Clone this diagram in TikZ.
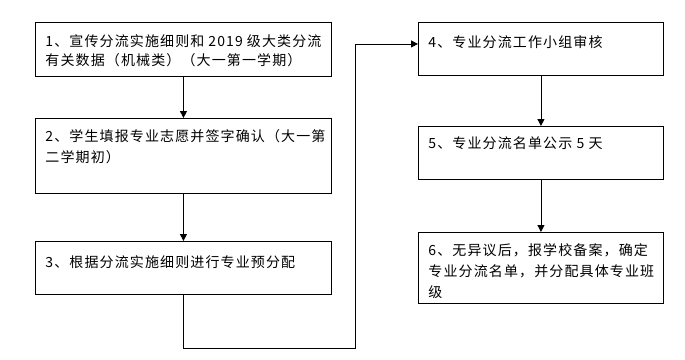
\documentclass[tikz,border=0pt]{standalone}
\usepackage{fontspec}
\newfontfamily\cjk{Noto Sans CJK SC}[LetterSpace=8]
\usetikzlibrary{arrows.meta}

% box body: height, width, first baseline, lines
\newcommand{\steptext}[4]{\parbox[c][#1][t]{#2}{\rule{0pt}{#3}#4}}

\begin{document}
\begin{tikzpicture}[x=1pt,y=-1pt,
  stepbox/.style={draw, line width=0.9pt, anchor=north west, inner xsep=10pt,
    inner ysep=0pt, font=\cjk\fontsize{14pt}{21pt}\selectfont},
  flow/.style={line width=0.9pt, -{Triangle[width=7pt,length=7pt]}}]
  \useasboundingbox (0,0) rectangle (685,359);

  \node[stepbox] (s1) at (35,22) {\steptext{54pt}{276pt}{24pt}{1、宣传分流实施细则和 2019 级大类分流\\[-2pt]有关数据（机械类）（大一第一学期）}};
  \node[stepbox] (s2) at (35,118) {\steptext{75pt}{276pt}{23pt}{2、学生填报专业志愿并签字确认（大一第\\二学期初）}};
  \node[stepbox] (s3) at (35,241) {\steptext{53pt}{276pt}{26pt}{3、根据分流实施细则进行专业预分配}};

  \node[stepbox] (s4) at (418,22) {\steptext{53pt}{225pt}{25pt}{4、专业分流工作小组审核}};
  \node[stepbox] (s5) at (418,126) {\steptext{53pt}{225pt}{22pt}{5、专业分流名单公示 5 天}};
  \node[stepbox] (s6) at (418,232) {\steptext{71pt}{225pt}{23pt}{6、无异议后，报学校备案，确定\\专业分流名单，并分配具体专业班\\级}};

  \draw[flow] (s1.south) -- (s2.north);
  \draw[flow] (s2.south) -- (s3.north);

  % loop round to the right column
  \coordinate (turn) at (355,348);
  \draw[flow] (s3.south) |- (turn) |- ([yshift=5pt]s4.west);

  \draw[flow] (s4.south) -- (s5.north);
  \draw[flow] (s5.south) -- (s6.north);
\end{tikzpicture}
\end{document}
